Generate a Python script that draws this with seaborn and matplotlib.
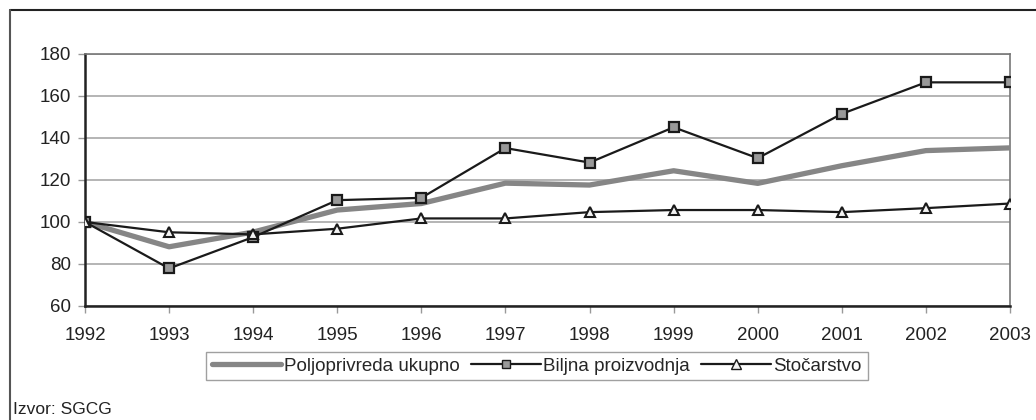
import pandas as pd
import seaborn as sns
from matplotlib import pyplot as plt
from matplotlib.lines import Line2D

years = [1992, 1993, 1994, 1995, 1996, 1997, 1998, 1999, 2000, 2001, 2002, 2003]
ukupno = [100, 88.2, 95.2, 105.7, 108.8, 118.5, 117.6, 124.4, 118.4, 126.8, 134.0, 135.3]
biljna = [100, 77.9, 92.8, 110.4, 111.5, 135.2, 128.3, 145.1, 130.4, 151.5, 166.5, 166.5]
stocarstvo = [100, 95.1, 94.1, 96.8, 101.7, 101.7, 104.7, 105.7, 105.7, 104.7, 106.6, 108.8]
labels = ['Poljoprivreda ukupno', 'Biljna proizvodnja', 'Stočarstvo']

df = pd.DataFrame({'Year': years, labels[0]: ukupno, labels[1]: biljna, labels[2]: stocarstvo})

sns.set_style('white')
plt.rcParams['font.family'] = ['Liberation Sans', 'DejaVu Sans']

fig = plt.figure(figsize=(10.36, 4.2), dpi=100)
ax = fig.add_axes([85 / 1036, 1 - 306 / 420, (1010 - 85) / 1036, (306 - 54) / 420])

sns.lineplot(data=df, x='Year', y=labels[0], ax=ax, color='#868686', lw=3.8,
             zorder=3, legend=False)
sns.lineplot(data=df, x='Year', y=labels[1], ax=ax, color='#1a1a1a', lw=1.6,
             marker='s', markersize=7, markerfacecolor='#999999',
             markeredgecolor='#1a1a1a', markeredgewidth=1.6, zorder=4, legend=False)
sns.lineplot(data=df, x='Year', y=labels[2], ax=ax, color='#1a1a1a', lw=1.6,
             marker='^', markersize=7.5, markerfacecolor='#f4f4f4',
             markeredgecolor='#1a1a1a', markeredgewidth=1.5, zorder=5, legend=False)

ax.set_xlim(1992, 2003)
ax.set_ylim(60, 180)
ax.set_xticks(years)
ax.set_yticks(range(60, 181, 20))
ax.set_xlabel('')
ax.set_ylabel('')
ax.grid(axis='y', color='#a8a8a8', lw=1.2)
ax.set_axisbelow(True)
for side in ['left', 'bottom']:
    ax.spines[side].set_color('#222222')
    ax.spines[side].set_linewidth(1.8)
for side in ['top', 'right']:
    ax.spines[side].set_color('#777777')
    ax.spines[side].set_linewidth(1.2)
ax.tick_params(axis='both', which='major', length=5, width=1, color='#999999',
               labelsize=13.5, labelcolor='#222222', pad=5, direction='out',
               bottom=True, left=True)
ax.tick_params(axis='x', pad=10)

handles = [
    Line2D([], [], color='#868686', lw=3.8),
    Line2D([], [], color='#1a1a1a', lw=1.6, marker='s', markersize=6,
           markerfacecolor='#999999', markeredgecolor='#1a1a1a'),
    Line2D([], [], color='#1a1a1a', lw=1.6, marker='^', markersize=6.5,
           markerfacecolor='#f4f4f4', markeredgecolor='#1a1a1a'),
]
leg = fig.legend(handles, labels, ncol=3, loc='center',
                 bbox_to_anchor=(537 / 1036, 1 - 366 / 420), fontsize=13.5,
                 frameon=True, fancybox=False, handlelength=3.7,
                 handletextpad=0.15, columnspacing=0.6, borderpad=0.3,
                 borderaxespad=0)
leg.get_frame().set_edgecolor('#888888')
leg.get_frame().set_linewidth(1.0)

# outer frame (top and left edges visible)
fig.add_artist(Line2D([10 / 1036, 1], [1 - 10 / 420, 1 - 10 / 420],
                      transform=fig.transFigure, color='#222222', lw=1.5))
fig.add_artist(Line2D([10 / 1036, 10 / 1036], [0, 1 - 10 / 420],
                      transform=fig.transFigure, color='#555555', lw=1.5))

fig.text(13 / 1036, 1 - 402 / 420, 'Izvor: SGCG', fontsize=12.5, va='top',
         ha='left', color='#222222')

fig.savefig('out.png', dpi=100)
